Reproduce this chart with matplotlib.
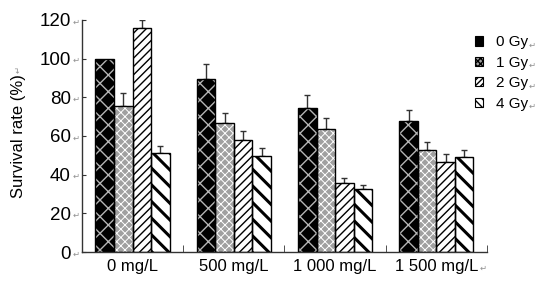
import numpy as np
import matplotlib
matplotlib.use('Agg')
import matplotlib.pyplot as plt
from matplotlib.patches import Patch

plt.rcParams['font.family'] = ['Liberation Sans', 'DejaVu Sans']

# data
groups = ['0 mg/L', '500 mg/L', '1 000 mg/L', '1 500 mg/L']
doses = ['0 Gy', '1 Gy', '2 Gy', '4 Gy']
survival = {
    '0 Gy': [100, 89.3, 74.6, 67.8],
    '1 Gy': [75.5, 66.6, 63.5, 52.9],
    '2 Gy': [116, 57.8, 35.5, 46.7],
    '4 Gy': [51, 49.7, 32.8, 49.0],
}
err_up = {
    '0 Gy': [0, 7.9, 6.4, 5.6],
    '1 Gy': [6.5, 5.1, 6.0, 4.2],
    '2 Gy': [4.0, 4.6, 2.9, 4.2],
    '4 Gy': [4.0, 4.3, 2.0, 3.9],
}
yticks = [0, 20, 40, 60, 80, 100, 120]

# fill, hatch colour, hatch, hatch width
styles = {
    '0 Gy': ('black', '#b4b4b4', 'xx', 1.0),
    '1 Gy': ('#a0a0a0', 'white', 'xxxx', 0.7),
    '2 Gy': ('white', 'black', '////', 1.0),
    '4 Gy': ('white', 'black', '\\\\', 2.2),
}
leg_hatch = {'0 Gy': 'xxxx', '1 Gy': 'xxxxxx', '2 Gy': '//////', '4 Gy': '\\\\\\\\'}

fig = plt.figure(figsize=(5.46, 2.89), dpi=100)
ax = fig.add_axes([0.150, 0.128, 0.742, 0.803])

x = np.arange(len(groups)) + 0.5
w = 0.183
handles = []
for i, d in enumerate(doses):
    fc, hc, hatch, hlw = styles[d]
    pos = x + (i - 1.5) * w
    with plt.rc_context({'hatch.linewidth': hlw}):
        bars = ax.bar(pos, survival[d], w, color=fc, edgecolor=hc, hatch=hatch, linewidth=0, zorder=2)
    with plt.rc_context({'hatch.linewidth': 0.8}):
        handles.append(Patch(facecolor=fc, edgecolor='black', hatch=leg_hatch[d], linewidth=0.8))
    for b in bars:
        if hasattr(b, 'set_hatch_linewidth'):
            b.set_hatch_linewidth(hlw)
    ax.bar(pos, survival[d], w, fill=False, edgecolor='black', linewidth=1.0, zorder=3)
    e = np.array(err_up[d], dtype=float)
    m = e > 0
    ax.errorbar(pos[m], np.array(survival[d])[m], yerr=[np.zeros(m.sum()), e[m]],
                fmt='none', ecolor='#333333', elinewidth=1.0, capsize=2.5, capthick=1.0, zorder=1)

ax.set_xlim(0, 4)
ax.set_ylim(0, 120)
ax.spines['top'].set_visible(False)
ax.spines['right'].set_visible(False)
for s in ['left', 'bottom']:
    ax.spines[s].set_linewidth(1.0)
    ax.spines[s].set_color('#333333')

ax.set_yticks(yticks)
ax.set_yticklabels([str(v) for v in yticks], fontsize=13.5)
ax.tick_params(axis='y', direction='in', length=3, pad=8, colors='#333333', labelcolor='black')
ax.set_xticks(x)
ax.set_xticklabels(groups, fontsize=12)
ax.tick_params(axis='x', which='major', length=0, pad=5)
ax.set_xticks([1, 2, 3, 4], minor=True)
ax.tick_params(axis='x', which='minor', direction='in', length=5, colors='#333333')

ax.set_ylabel('Survival rate (%)', fontsize=12, labelpad=10)

# little return marks like the original document
ret = dict(fontsize=6, color='#909090', family=['DejaVu Sans'])
for v in yticks:
    ax.annotate('\u21b5', xy=(0, v), xycoords=('axes fraction', 'data'), xytext=(-1.5, -1.5),
                textcoords='offset points', ha='right', va='center', **ret)
ax.annotate('\u21b5', xy=(1, 0.35), xycoords=ax.get_xticklabels()[-1], xytext=(1, 0),
            textcoords='offset points', ha='left', va='center', zorder=6, **ret)
ax.annotate('\u21b5', xy=(0.5, 1), xycoords=ax.yaxis.label, xytext=(0, 1),
            textcoords='offset points', ha='center', va='bottom', rotation=90, zorder=6, **ret)

leg = ax.legend(handles, doses, loc='upper left', bbox_to_anchor=(0.955, 0.96), frameon=False,
                fontsize=11, handlelength=0.55, handleheight=0.55, handletextpad=0.8,
                labelspacing=0.42, borderaxespad=0)
for t in leg.get_texts():
    ax.annotate('\u21b5', xy=(1, 0.3), xycoords=t, xytext=(0.5, 0),
                textcoords='offset points', ha='left', va='center', zorder=7, **ret)

fig.savefig('out.png', dpi=100)
